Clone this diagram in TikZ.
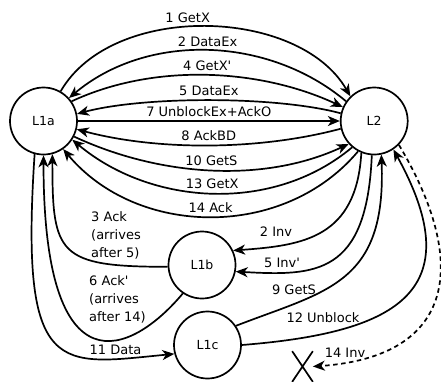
\documentclass[tikz,border=0pt]{standalone}
\usepackage{fontspec}
\newfontfamily\diafont{DejaVu Sans}
\usetikzlibrary{positioning,arrows.meta,shapes.misc}

\begin{document}
\begin{tikzpicture}[
    x=1pt, y=1pt,
    font=\diafont\fontsize{13}{18}\selectfont,
    >={Stealth[length=12pt,width=10pt,inset=3.5pt]},
    cache/.style={
        circle,
        draw=black,
        line width=1.7pt,
        minimum size=67pt,
        inner sep=0pt,
        font=\diafont\fontsize{12.5}{15}\selectfont
    },
    msg/.style={->, line width=1.7pt, draw=black},
    lostmsg/.style={msg, dash pattern=on 4.5pt off 3.5pt},
    lbl/.style={inner sep=0pt, align=left}
]
    \useasboundingbox (0,0) rectangle (441,-381);

    % caches
    \node[cache] (l1a) at (43.5,-121) {L1a};
    \node[cache, right=262pt of l1a] (l2) {L2};
    \node[cache] (l1b) at (202,-265) {L1b};
    \node[cache] (l1c) at (207.5,-345) {L1c};
    \node[cross out, draw=black, line width=1.7pt, inner sep=0pt,
          minimum width=19pt, minimum height=29pt] (lost) at (302.5,-366.5) {};

    % L1a <-> L2
    \draw[msg] (l1a.60) to[out=60,in=120,looseness=0.91] node[above,pos=0.45] (m1) {1 GetX} (l2.134);
    \draw[msg] (l2.145) to[out=140,in=40,looseness=0.94] node[above] (m2) {2 DataEx} (l1a.42);
    \draw[msg] (l1a.35) to[out=25,in=155,looseness=0.86] node[above] (m4) {4 GetX'} (l2.156);
    \draw[msg] (l2.167) to[out=165,in=15,looseness=0.66] node[above] (m5) {5 DataEx} (l1a.12);
    \draw[msg] (l1a) -- node[above] (m7) {7 UnblockEx+AckO} (l2);
    \draw[msg] (l2.193) to[out=195,in=-15,looseness=0.81] node[above] (m8) {8 AckBD} (l1a.-14);
    \draw[msg] (l1a.-27) to[out=-25,in=205,looseness=0.875] node[above] (m10) {10 GetS} (l2.222);
    \draw[msg] (l2.230) to[out=220,in=-40,looseness=0.94] node[above] (m13) {13 GetX} (l1a.-33);
    \draw[msg] (l2.242) to[out=230,in=-50,looseness=1.0] node[above] (m14) {14 Ack} (l1a.-55);

    % L1b, L1c
    \draw[msg] (l1b.183) .. controls +(-110,0) and +(0,-100) .. (l1a.-75);
    \draw[msg] (l1b.236) .. controls +(230:80) and +(0,-240) .. (l1a.-90);
    \draw[msg] (l1a.255) .. controls +(-15,-226) and +(-115,-11) .. (l1c.195);
    \draw[msg] (l2.248) .. controls +(-5,-85) and +(70,5) .. (l1b.25);
    \draw[msg] (l2.266) .. controls +(-5,-120) and +(80,-4.5) .. (l1b.-11);
    \draw[msg] (l1c.34) .. controls +(90,35) and +(5,-130) .. (l2.282);
    \draw[msg] (l1c.0) .. controls +(150,12) and +(80,-145) .. (l2.-56);
    \draw[lostmsg] (l2.-44) .. controls +(70.5,-118) and +(143,10) .. (lost.east);

    \node[lbl, anchor=west] (t3) at (91,-235) {3 Ack\\(arrives\\after 5)};
    \node[lbl, anchor=west] (t6) at (89,-299.5) {6 Ack'\\(arrives\\after 14)};
    \node[lbl] (t11) at (115.5,-350) {11 Data};
    \node[lbl] (t2) at (276,-232) {2 Inv};
    \node[lbl] (t5) at (282,-263) {5 Inv'};
    \node[lbl] (t9) at (294,-290) {9 GetS};
    \node[lbl] (t12) at (323,-318) {12 Unblock};
    \node[lbl] (t14) at (345,-353) {14 Inv};

\end{tikzpicture}
\end{document}
